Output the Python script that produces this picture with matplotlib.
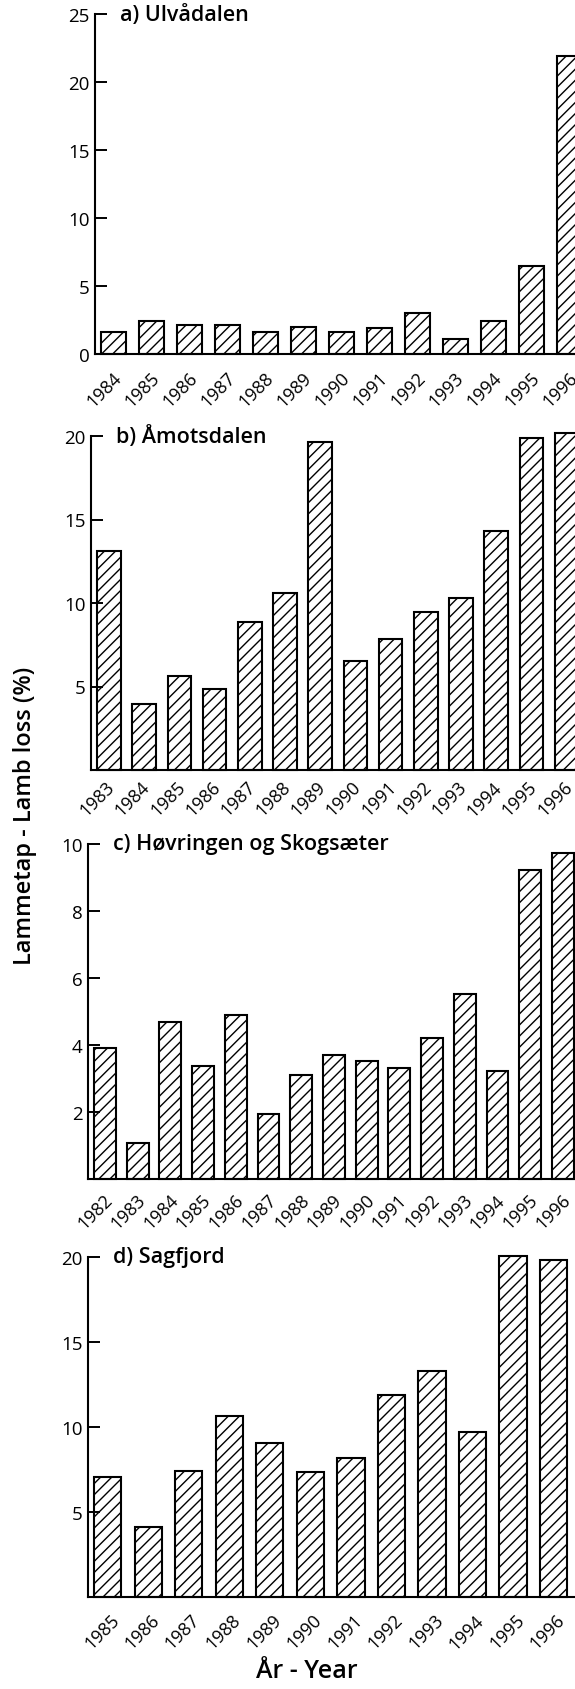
#!/usr/bin/env python
# -*- coding: utf-8 -*-

import matplotlib as mpl
import matplotlib.pyplot as plt
from matplotlib.transforms import ScaledTranslation

plt.rcParams['font.family'] = ['Open Sans', 'DejaVu Sans']
plt.rcParams['hatch.linewidth'] = 1.0

############################################################
# Data: lamb loss (%) per year, four areas
years_a = ['1984', '1985', '1986', '1987', '1988', '1989', '1990',
           '1991', '1992', '1993', '1994', '1995', '1996']
loss_a = [1.6, 2.4, 2.1, 2.15, 1.6, 1.95, 1.65, 1.9, 3.05, 1.1, 2.4, 6.5, 21.9]

years_b = ['1983', '1984', '1985', '1986', '1987', '1988', '1989', '1990',
           '1991', '1992', '1993', '1994', '1995', '1996']
loss_b = [13.1, 3.95, 5.6, 4.85, 8.85, 10.6, 19.65, 6.5, 7.85, 9.45, 10.3,
          14.3, 19.9, 20.2]

years_c = ['1982', '1983', '1984', '1985', '1986', '1987', '1988', '1989',
           '1990', '1991', '1992', '1993', '1994', '1995', '1996']
loss_c = [3.9, 1.07, 4.7, 3.38, 4.9, 1.94, 3.1, 3.7, 3.51, 3.31, 4.2, 5.52,
          3.21, 9.23, 9.73]

years_d = ['1985', '1986', '1987', '1988', '1989', '1990', '1991', '1992',
           '1993', '1994', '1995', '1996']
loss_d = [7.04, 4.14, 7.43, 10.67, 9.08, 7.37, 8.16, 11.9, 13.3, 9.7,
          20.05, 19.8]

titles = ['a) Ulvådalen', 'b) Åmotsdalen', 'c) Høvringen og Skogsæter',
          'd) Sagfjord']
yticks = [[0, 5, 10, 15, 20, 25], [5, 10, 15, 20], [2, 4, 6, 8, 10],
          [5, 10, 15, 20]]
ymax = [25, 20, 10, 20]

############################################################
# Layout (pixels in a 575 x 1690 figure)
W, H = 575., 1690.
# left, top, bottom of each axes
boxes = [(95, 15, 355), (91, 437, 771), (88, 845, 1180), (88, 1258, 1598)]
xlims = [(-0.487, 12.14), (-0.51, 13.24), (-0.52, 14.37), (-0.49, 11.53)]
# shift of the year labels (px right, px down)
lab_off = [(8.5, 24), (6.5, 17.5), (8.5, 21.5), (12, 23.5)]

fig = plt.figure(figsize=(5.75, 16.9), dpi=100)

data = [(years_a, loss_a), (years_b, loss_b), (years_c, loss_c),
        (years_d, loss_d)]

for ii, (yrs, vals) in enumerate(data):
    left, top, bot = boxes[ii]
    ax = fig.add_axes([left / W, 1 - bot / H, (W - left) / W, (bot - top) / H])
    xs = list(range(len(yrs)))
    ax.bar(xs, vals, width=0.67, color='white', edgecolor='black',
           lw=1.5, hatch='///', clip_on=False)

    ax.set_xlim(*xlims[ii])
    ax.set_ylim(0, ymax[ii])
    ax.set_yticks(yticks[ii])
    ax.set_xticks(xs)

    for side in ['top', 'right']:
        ax.spines[side].set_visible(False)
    for side in ['left', 'bottom']:
        ax.spines[side].set_linewidth(1.5)

    ax.tick_params(axis='y', direction='in', length=8.5, width=1.4,
                   pad=4, labelsize=13.5)
    ax.tick_params(axis='x', length=0, pad=0, labelsize=13)

    # rotated year labels, shifted after tick_params (which resets them)
    ax.set_xticklabels(yrs, rotation=45, ha='right', va='baseline',
                       rotation_mode='anchor')
    dx, dy = lab_off[ii]
    off = ScaledTranslation(dx / 100., -dy / 100., fig.dpi_scale_trans)
    for lab in ax.get_xticklabels():
        lab.set_transform(lab.get_transform() + off)

    ax.annotate(titles[ii], xy=(0, ymax[ii]),
                xycoords=('axes fraction', 'data'),
                xytext=(25, 0), textcoords='offset pixels',
                va='center', ha='left', fontsize=15.5, fontweight='semibold')

fig.text(25 / W, 1 - 816 / H, 'Lammetap - Lamb loss (%)', rotation=90,
         ha='center', va='center', fontsize=17, fontweight='semibold')
fig.text(307 / W, 1 - 1672 / H, 'År - Year', ha='center', va='center',
         fontsize=18, fontweight='semibold')

plt.savefig('out.png', dpi=100)
